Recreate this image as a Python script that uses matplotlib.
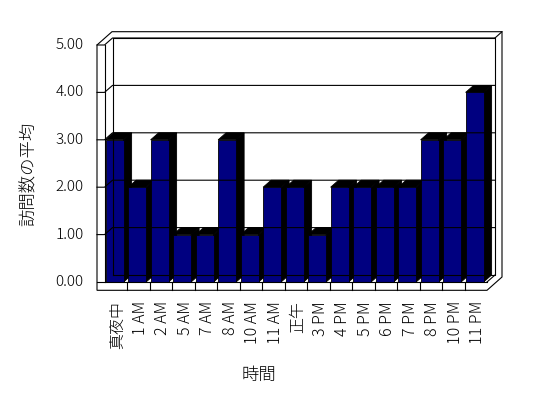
import numpy as np
import matplotlib
matplotlib.use("Agg")
import matplotlib.pyplot as plt
from matplotlib.patches import Polygon
from matplotlib.transforms import Affine2D, IdentityTransform

plt.rcParams['font.family'] = ['Noto Sans CJK JP', 'DejaVu Sans']

# data
hours = ["真夜中", "1 AM", "2 AM", "5 AM", "7 AM", "8 AM", "10 AM", "11 AM", "正午",
         "3 PM", "4 PM", "5 PM", "6 PM", "7 PM", "8 PM", "10 PM", "11 PM"]
visits = [3, 2, 3, 1, 1, 3, 1, 2, 2, 1, 2, 2, 2, 2, 3, 3, 4]
yticks = [0, 1, 2, 3, 4, 5]
ylabels = ["0.00", "1.00", "2.00", "3.00", "4.00", "5.00"]

W, H = 548, 398
fig = plt.figure(figsize=(W / 100, H / 100), dpi=100)
# inner front plane of the 3d box
ax = fig.add_axes([104.5 / W, (H - 282) / H, (487 - 104.5) / W, (282 - 45) / H])
n = len(hours)
ax.set_xlim(-0.5, n - 0.5)
ax.set_ylim(0, 5)
ax.axis("off")

D1 = (8, 7)      # depth to back wall inner face (pixels)
D2 = (15, 13.3)  # depth to back of back wall
LW = 7.5         # left wall thickness
FW = 8.3         # floor thickness
x0, x1 = -0.5, n - 0.5
ident = IdentityTransform()
LINE = 0.8


def P(x, v, dx=0, dy=0, d=None):
    px, py = ax.transData.transform((x, v))
    if d is not None:
        px += d[0]
        py += d[1]
    return (px + dx, py + dy)


def line(pts, lw=LINE):
    xs = [p[0] for p in pts]
    ys = [p[1] for p in pts]
    ax.plot(xs, ys, color="black", lw=lw, transform=ident, clip_on=False,
            solid_capstyle="projecting")


def poly(pts, fc, ec="black", lw=LINE):
    ax.add_patch(Polygon(pts, closed=True, fc=fc, ec=ec, lw=lw,
                         transform=ident, clip_on=False))


# outer silhouette of the walls and floor
poly([P(x0, 5, -LW, 0), P(x0, 5, -LW, 0, D2), P(x1, 5, 0, 0, D2),
      P(x1, 0, 0, -FW, D2), P(x1, 0, 0, -FW), P(x0, 0, -LW, -FW)], "white")

# back wall inner face
line([P(x0, 0, d=D1), P(x0, 5, d=D1), P(x1, 5, d=D1), P(x1, 0, d=D1), P(x0, 0, d=D1)])
line([P(x1, 5, d=D1), P(x1, 5, d=D2)])
line([P(x1, 0), P(x1, 0, d=D1)])

# gridlines with ticks on the left wall
for v in yticks[1:]:
    line([P(x0, v, -LW, 0), P(x0, v), P(x0, v, d=D1), P(x1, v, d=D1)])

# left wall inner edge
line([P(x0, 5), P(x0, 0)])

# floor front face with category separators
line([P(x0, 0, -LW, 0), P(x1, 0)])
for k in range(1, n):
    line([P(k - 0.5, 0), P(k - 0.5, 0, 0, -FW)])

# bars
bw = 0.8
for i, v in enumerate(visits):
    left, right = i - 0.45, i - 0.45 + bw
    poly([P(right, 0), P(right, v), P(right, v, d=D1), P(right, 0, d=D1)], "black", lw=0.6)
    poly([P(left, v), P(right, v), P(right, v, d=D1), P(left, v, d=D1)], "black", lw=0.6)
    poly([P(left, 0), P(left, v), P(right, v), P(right, 0)], "#000080", lw=0.6)

# tick labels
for v, lab in zip(yticks, ylabels):
    ax.text(x0, v, lab, transform=ax.transData + Affine2D().translate(-21, 0),
            ha="right", va="center", fontsize=11, fontweight="light")
for i, lab in enumerate(hours):
    ax.text(i, 0, lab, transform=ax.transData + Affine2D().translate(2, -19),
            rotation=90, ha="center", va="top", fontsize=11.5, fontweight="light")

fig.text(29 / W, 1 - 174 / H, "訪問数の平均", rotation=90, ha="center", va="center",
         fontsize=12.5, fontweight="light")
fig.text(259 / W, 1 - 375 / H, "時間", ha="center", va="center", fontsize=12.5,
         fontweight="light")

fig.savefig("out.png", dpi=100)
